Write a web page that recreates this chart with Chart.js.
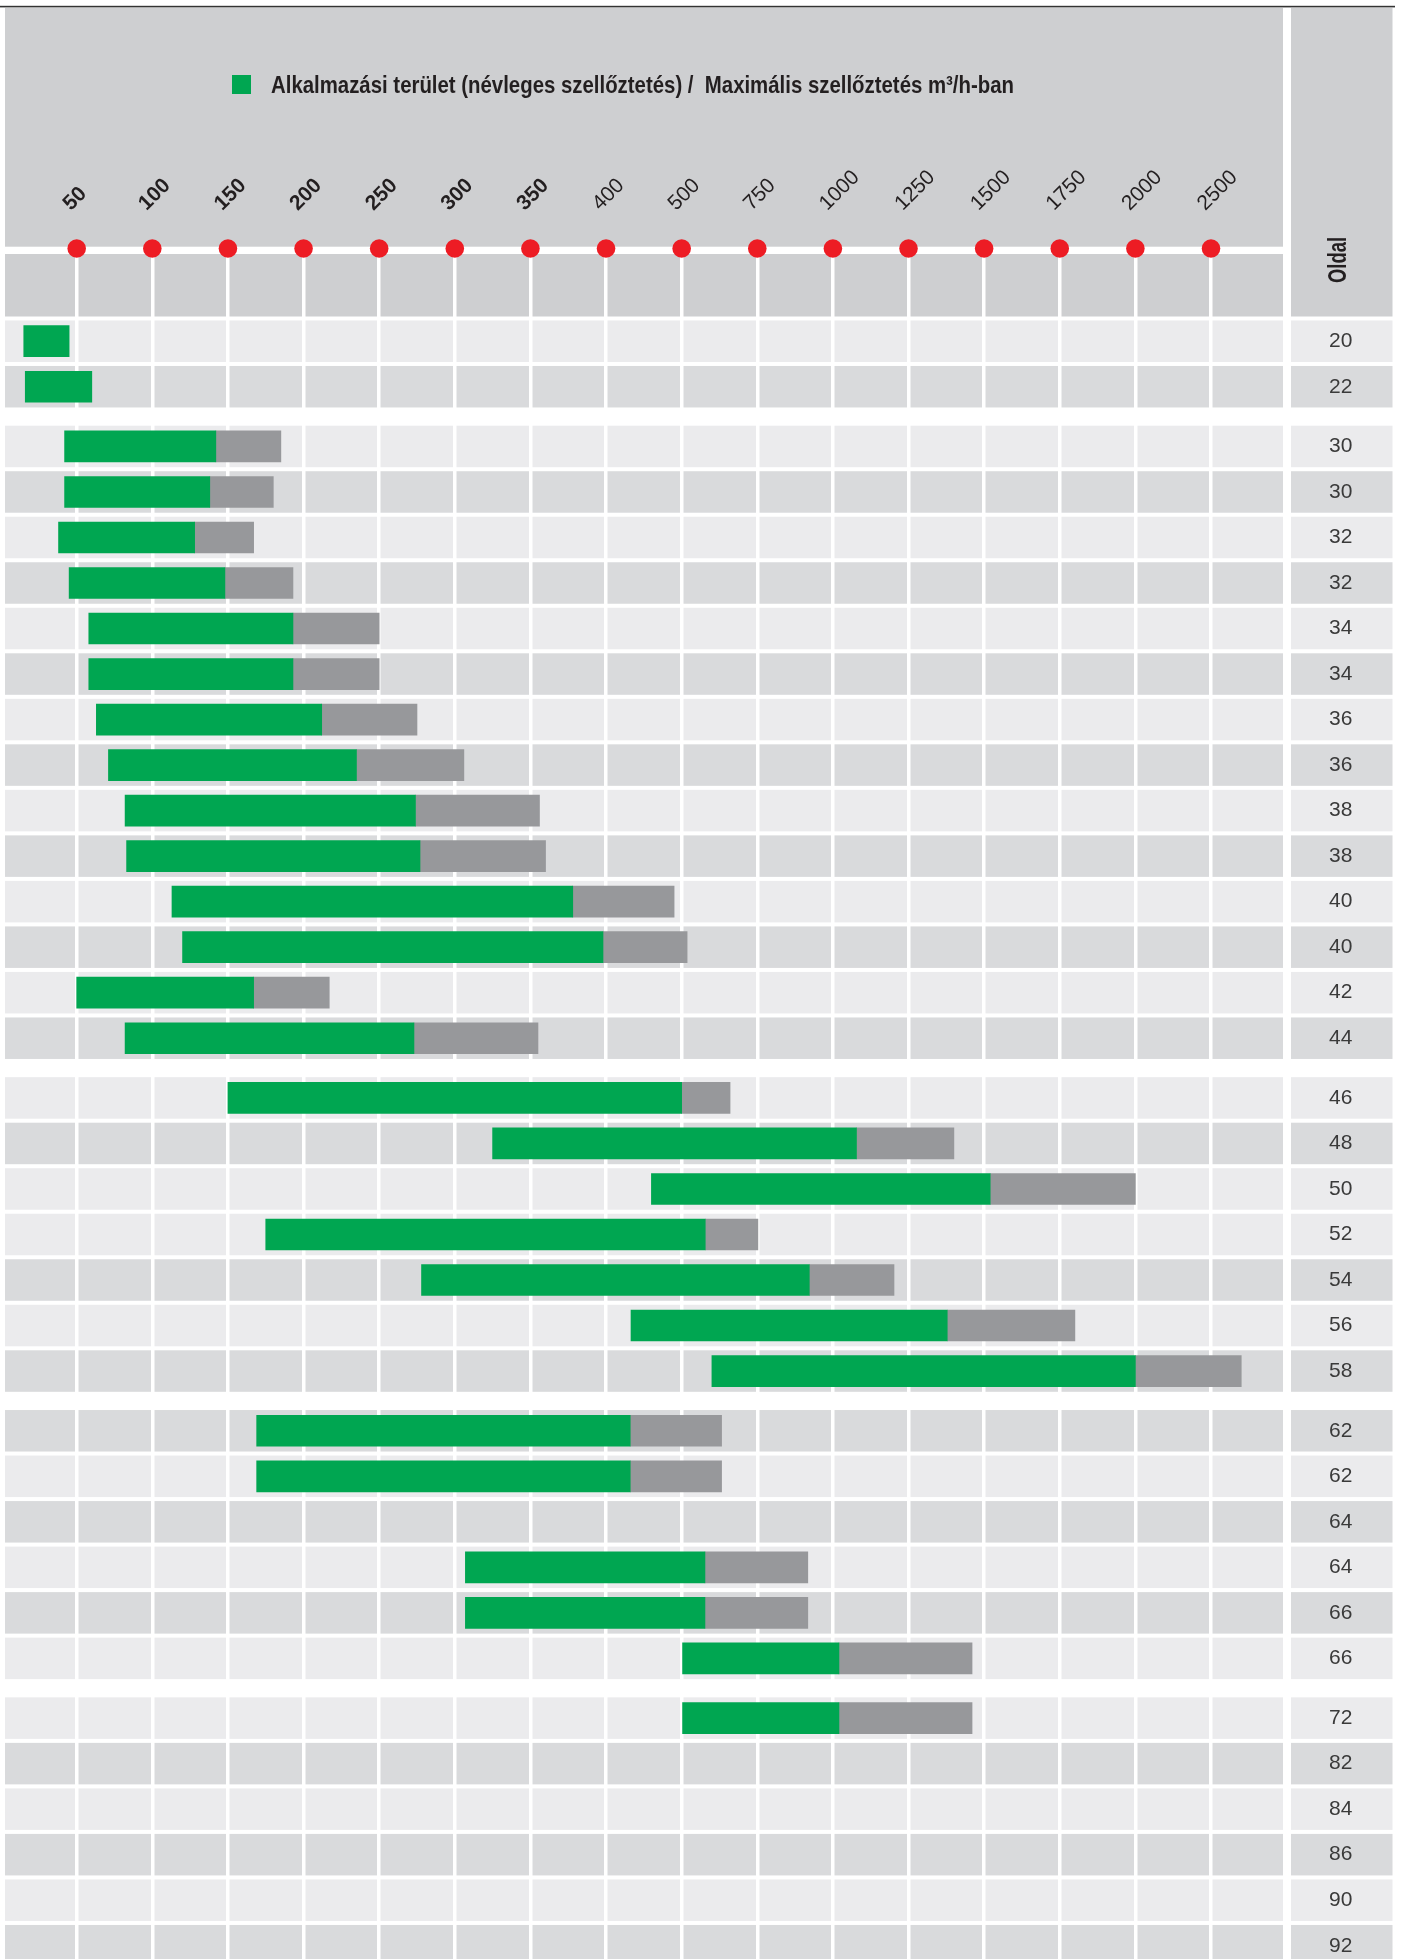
<!DOCTYPE html>
<html>
<head>
<meta charset="utf-8">
<title>Alkalmazási terület</title>
<script src="https://cdn.jsdelivr.net/npm/chart.js@4.4.1/dist/chart.umd.min.js"></script>
<style>
    html, body { margin: 0; padding: 0; background: #fff; }
    #wrap { width: 1403px; height: 1959px; }
</style>
</head>
<body>
<div id="wrap"><canvas id="chart" width="1403" height="1959"></canvas></div>
<script>
// page numbers in the right column, top to bottom
const pages = ['20', '22',
    '30', '30', '32', '32', '34', '34', '36', '36', '38', '38', '40', '40', '42', '44',
    '46', '48', '50', '52', '54', '56', '58',
    '62', '62', '64', '64', '66', '66',
    '72', '82', '84', '86', '90', '92'];

// rows per block (blocks are split by a white gap)
const groupSizes = [2, 14, 7, 6, 6];

// air flow in m3/h (null = no bar in that row)
const nominalFrom = [15, 16,
    42, 42, 38, 45, 58, 58, 63, 71, 82, 83, 113, 120, 50, 82,
    150, 325, 460, 175, 278, 433, 600,
    169, 169, null, 307, 307, 503,
    503, null, null, null, null, null];
const nominalTo = [45, 60,
    142, 138, 128, 148, 193, 193, 212, 235, 274, 277, 378, 398, 167, 273,
    500, 1078, 1520, 578, 922, 1378, 2000,
    432, 432, null, 577, 577, 1020,
    1020, null, null, null, null, null];
const maxFlow = [null, null,
    185, 180, 167, 193, 250, 250, 275, 306, 356, 360, 490, 518, 217, 355,
    660, 1400, 2000, 752, 1202, 1800, 2700,
    632, 632, null, 917, 917, 1460,
    1460, null, null, null, null, null];

// axis ticks: evenly spaced on the chart, not in value
const tickValues = [50, 100, 150, 200, 250, 300, 350, 400, 500, 750, 1000, 1250, 1500, 1750, 2000, 2500];

const nominalLabel = 'Alkalmazási terület (névleges szellőztetés)';
const maxLabel = 'Maximális szellőztetés m³/h-ban';
const columnTitle = 'Oldal';

// row shading, L = light, D = dark
const rowShade = 'LD' + 'LDLDLDLDLDLDLD' + 'LDLLDLD' + 'DLDLDL' + 'LDLDLD';

const GREEN = '#00a651';
const GREY_BAR = '#97989b';
const HEAD = '#cecfd1';
const LIGHT = '#ebebed';
const DARK = '#d9dadc';
const RED = '#ed1c24';
const INK = '#231f20';
const FONT = "'Liberation Sans', Arial, Helvetica, sans-serif";
const GAP = 0.312;   // extra space between blocks, in rows
const BOLD_TICKS = 7;

// vertical position of each row, leaving a gap between blocks
const rowPos = [];
let k = 0;
groupSizes.forEach((n, g) => {
    for (let i = 0; i < n; i++) {
        rowPos.push(k + g * GAP);
        k++;
    }
});

// value -> position in tick steps (piecewise linear between ticks)
function toIdx(v) {
    const t = tickValues;
    const n = t.length - 1;
    if (v <= t[0]) return (v - t[0]) / (t[1] - t[0]);
    for (let i = 1; i <= n; i++) {
        if (v <= t[i]) return i - 1 + (v - t[i - 1]) / (t[i] - t[i - 1]);
    }
    return n + (v - t[n]) / (t[n] - t[n - 1]);
}
function fromIdx(x) {
    const t = tickValues;
    const n = t.length - 1;
    if (x <= 0) return t[0] + x * (t[1] - t[0]);
    if (x >= n) return t[n] + (x - n) * (t[n] - t[n - 1]);
    const i = Math.floor(x);
    return t[i] + (x - i) * (t[i + 1] - t[i]);
}

// linear scale whose ticks are evenly spaced although the values are not
class StepScale extends Chart.LinearScale {
    determineDataLimits() {
        this.min = this.options.min;
        this.max = this.options.max;
    }
    buildTicks() {
        return tickValues.map(v => ({ value: v }));
    }
    configure() {
        super.configure();
        this._lo = toIdx(this.min);
        this._hi = toIdx(this.max);
    }
    getPixelForValue(v) {
        if (v === null || isNaN(v)) return NaN;
        return this.getPixelForDecimal((toIdx(v) - this._lo) / (this._hi - this._lo));
    }
    getValueForPixel(p) {
        return fromIdx(this._lo + this.getDecimalForPixel(p) * (this._hi - this._lo));
    }
}
StepScale.id = 'step';
StepScale.defaults = { ticks: { callback: v => String(v) } };
Chart.register(StepScale);

const nominalBars = [];
const maxBars = [];
pages.forEach((p, i) => {
    if (nominalFrom[i] !== null) nominalBars.push({ y: rowPos[i], x: [nominalFrom[i], nominalTo[i]] });
    if (maxFlow[i] !== null) maxBars.push({ y: rowPos[i], x: [nominalTo[i], maxFlow[i]] });
});

const backdrop = {
    id: 'backdrop',
    beforeDraw(chart) {
        const ctx = chart.ctx;
        const area = chart.chartArea;
        const y = chart.scales.y;
        const colL = area.right + 8;
        const colR = chart.width - 10.5;
        ctx.save();
        ctx.fillStyle = '#fff';
        ctx.fillRect(0, 0, chart.width, chart.height);
        // top rule
        ctx.fillStyle = '#333';
        ctx.fillRect(0, 5.8, 1395, 1.6);
        // header
        ctx.fillStyle = HEAD;
        ctx.fillRect(area.left, 8, area.right - area.left, 238.7);
        ctx.fillRect(area.left, area.top, area.right - area.left, 62.5);
        ctx.fillRect(colL, 8, colR - colL, 308.5);
        // row bands
        rowPos.forEach((v, i) => {
            const cy = y.getPixelForValue(v);
            ctx.fillStyle = rowShade[i] === 'L' ? LIGHT : DARK;
            ctx.fillRect(area.left, cy - 20.75, area.right - area.left, 41.5);
            ctx.fillRect(colL, cy - 20.75, colR - colL, 41.5);
        });
        ctx.restore();
    },
    afterDraw(chart) {
        const ctx = chart.ctx;
        const x = chart.scales.x;
        ctx.save();
        // red markers on the white rule
        ctx.fillStyle = RED;
        x.ticks.forEach((t, i) => {
            ctx.beginPath();
            ctx.arc(x.getPixelForTick(i), 248.5, 9.3, 0, Math.PI * 2);
            ctx.fill();
        });
        // legend
        ctx.fillStyle = GREEN;
        ctx.fillRect(232, 75, 19, 19);
        ctx.fillStyle = INK;
        ctx.font = 'bold 24px ' + FONT;
        ctx.textAlign = 'left';
        ctx.textBaseline = 'alphabetic';
        ctx.fillText(nominalLabel + ' /  ' + maxLabel, 271, 93, 743);
        // column title
        ctx.translate(1339, 260);
        ctx.rotate(-Math.PI / 2);
        ctx.textAlign = 'center';
        ctx.textBaseline = 'middle';
        ctx.font = 'bold 26px ' + FONT;
        ctx.fillText(columnTitle, 0, 0, 46);
        ctx.restore();
    }
};

const ctx = document.getElementById('chart').getContext('2d');
const chart = new Chart(ctx, {
    type: 'bar',
    data: {
        datasets: [
            {
                label: nominalLabel,
                data: nominalBars,
                backgroundColor: GREEN,
                grouped: false,
                barThickness: 31
            },
            {
                label: maxLabel,
                data: maxBars,
                backgroundColor: GREY_BAR,
                grouped: false,
                barThickness: 31
            }
        ]
    },
    options: {
        indexAxis: 'y',
        responsive: false,
        animation: false,
        devicePixelRatio: 1,
        layout: { padding: { left: 5, right: 10, top: 0, bottom: 0 } },
        plugins: {
            legend: { display: false },
            tooltip: { enabled: false }
        },
        scales: {
            x: {
                type: 'step',
                position: 'top',
                min: 2.6,
                max: 2976,
                grid: { color: '#fff', lineWidth: 3.5, drawTicks: false },
                border: { display: false },
                ticks: {
                    autoSkip: false,
                    minRotation: 45,
                    maxRotation: 45,
                    padding: 38,
                    labelOffset: 8,
                    color: INK,
                    font: c => ({ family: FONT, size: 21, weight: c.index < BOLD_TICKS ? 'bold' : 'normal' }),
                    callback: v => String(v)
                },
                afterFit: s => {
                    s.height = 254;
                    s.paddingLeft = 0;
                    s.paddingRight = 0;
                }
            },
            y: {
                type: 'linear',
                position: 'right',
                reverse: true,
                offset: false,
                min: -1.9156,
                max: 35.54,
                afterBuildTicks: s => { s.ticks = rowPos.map(v => ({ value: v })); },
                grid: { display: false, offset: false },
                border: { display: false },
                ticks: {
                    autoSkip: false,
                    crossAlign: 'center',
                    padding: 38,
                    color: '#3a3a3a',
                    font: { family: FONT, size: 21 },
                    callback: (v, i) => pages[i]
                },
                afterFit: s => {
                    s.width = 110;
                    s.paddingTop = 0;
                    s.paddingBottom = 0;
                }
            }
        }
    },
    plugins: [backdrop]
});
</script>
</body>
</html>
